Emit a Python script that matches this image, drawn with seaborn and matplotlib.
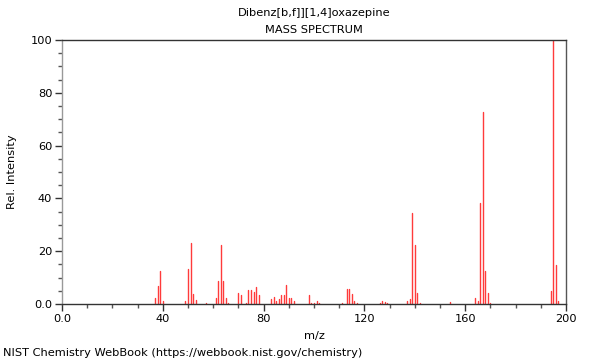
import numpy as np
import pandas as pd
import matplotlib
matplotlib.use("Agg")
import matplotlib.pyplot as plt
import seaborn as sns
from matplotlib.ticker import MultipleLocator, FixedLocator

title = "Dibenz[b,f]][1,4]oxazepine"
subtitle = "MASS SPECTRUM"
footer = "NIST Chemistry WebBook (https://webbook.nist.gov/chemistry)"

mz = [37, 38, 39, 40, 49, 50, 51, 52, 53, 57, 61, 62, 63, 64, 65, 66,
      70, 71, 73, 74, 75, 76, 77, 78, 83, 84, 85, 86, 87, 88, 89, 90, 91, 92,
      98, 99, 100, 101, 102, 111, 113, 114, 115, 116, 117, 126, 127, 128, 129,
      137, 138, 139, 140, 141, 142, 154, 164, 165, 166, 167, 168, 169, 170,
      194, 195, 196, 197]
intensity = [2.4, 6.8, 12.5, 1.0, 1.0, 13.4, 23.1, 3.8, 1.4, 0.5, 2.3, 8.7, 22.3, 8.8, 2.3, 0.5,
             4.0, 3.4, 0.5, 5.3, 5.3, 4.4, 6.4, 3.4, 1.8, 2.8, 1.2, 2.0, 3.4, 3.5, 7.2, 2.3, 2.3, 1.3,
             3.4, 0.4, 0.4, 1.0, 0.5, 0.3, 5.7, 5.5, 3.7, 1.0, 0.3, 0.5, 1.2, 0.9, 0.3,
             1.0, 1.9, 34.6, 22.3, 4.3, 0.5, 0.7, 2.1, 1.0, 38.1, 72.7, 12.4, 4.2, 0.5,
             4.9, 100.0, 14.9, 1.2]

xticks = [0, 40, 80, 120, 160, 200]
xticklabels = ["0.0", "40", "80", "120", "160", "200"]
yticks = [0, 20, 40, 60, 80, 100]
yticklabels = ["0.0", "20", "40", "60", "80", "100"]

rows = []
for i, (m, v) in enumerate(zip(mz, intensity)):
    rows.append({"mz": m, "I": 0.0, "peak": i})
    rows.append({"mz": m, "I": v, "peak": i})
df = pd.DataFrame(rows)

sns.set_style("white")
plt.rcParams["font.family"] = ["DejaVu Sans"]
plt.rcParams["text.color"] = "black"
plt.rcParams["axes.labelcolor"] = "black"
plt.rcParams["xtick.color"] = "black"
plt.rcParams["ytick.color"] = "black"

fs = 8.2
fig = plt.figure(figsize=(6, 3.6), dpi=100)
ax = fig.add_axes([62/600, 1 - 304/360, (566-62)/600, (304-40)/360])

sns.lineplot(data=df, x="mz", y="I", units="peak", estimator=None,
             color="#ff3b3b", linewidth=1.0, ax=ax, legend=False)

ax.set_xlim(0, 200)
ax.set_ylim(0, 100)
ax.xaxis.set_major_locator(FixedLocator(xticks))
ax.set_xticklabels(xticklabels)
ax.xaxis.set_minor_locator(MultipleLocator(10))
ax.yaxis.set_major_locator(FixedLocator(yticks))
ax.set_yticklabels(yticklabels)
ax.yaxis.set_minor_locator(MultipleLocator(5))
ax.tick_params(which="major", direction="out", length=5, width=1, color="#333333",
               labelsize=fs, labelcolor="black", bottom=True, left=True, pad=2)
ax.tick_params(which="minor", direction="out", length=3, width=1, color="#555555",
               bottom=True, left=True)

for side, col in [("left", "#999999"), ("top", "#333333"), ("right", "#555555"), ("bottom", "#333333")]:
    ax.spines[side].set_visible(True)
    ax.spines[side].set_color(col)
    ax.spines[side].set_linewidth(1)

ax.set_xlabel("m/z", fontsize=fs, labelpad=5, color="black")
ax.set_ylabel("Rel. Intensity", fontsize=fs, labelpad=10, color="black")

fig.text(314/600, 1 - 13/360, title, ha="center", va="center", fontsize=fs, color="black")
fig.text(314/600, 1 - 30/360, subtitle, ha="center", va="center", fontsize=fs, color="black")
fig.text(3/600, 1 - 353/360, footer, ha="left", va="center", fontsize=fs, color="black")

fig.savefig("out.png", dpi=100)
